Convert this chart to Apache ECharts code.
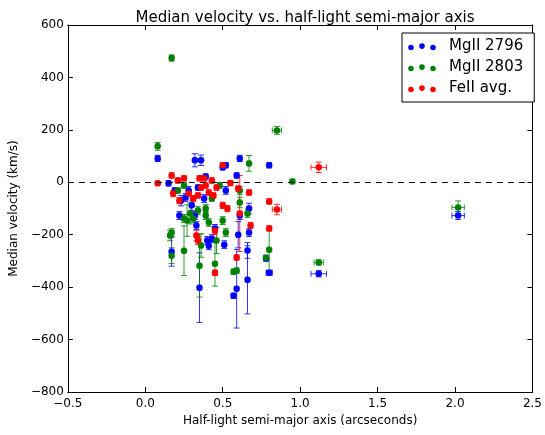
<!DOCTYPE html>
<html>
<head>
<meta charset="utf-8">
<script src="https://cdn.jsdelivr.net/npm/echarts@6/dist/echarts.min.js"></script>
<style>html,body{margin:0;padding:0;background:#fff}#c{width:545px;height:435px}</style>
</head>
<body>
<div id="c"></div>
<script>
// ---- data ----
var xTicks = [-0.5, 0.0, 0.5, 1.0, 1.5, 2.0, 2.5];
var yTicks = [-800, -600, -400, -200, 0, 200, 400, 600];

var mg2796X = [0.08,0.15,0.19,0.17,0.22,0.23,0.26,0.28,0.30,0.32,0.36,0.32,0.33,0.35,0.34,0.38,0.39,0.40,0.41,0.43,0.45,0.50,0.52,0.52,0.51,0.57,0.59,0.59,0.61,0.60,0.61,0.66,0.66,0.67,0.67,0.80,0.80,0.78,1.12,2.02];
var mg2796Y = [91,-4,-31,-265,-127,-70,-58,-31,-88,84,84,-127,-165,-402,-20,-62,22,-222,-242,-215,-176,57,65,-31,-238,-433,26,-406,91,-200,-127,-372,-260,-100,-192,65,-345,-291,-349,-127];
var mg2796Xerr = [0.01,0.01,0.01,0.01,0.01,0.01,0.01,0.01,0.01,0.01,0.01,0.01,0.01,0.01,0.01,0.01,0.01,0.01,0.01,0.01,0.01,0.01,0.01,0.01,0.01,0.01,0.01,0.01,0.01,0.01,0.01,0.01,0.01,0.01,0.01,0.01,0.02,0.01,0.05,0.04];
var mg2796Yerr = [12,10,10,55,15,20,15,15,20,25,20,15,15,133,10,15,10,15,15,15,15,10,10,15,15,10,10,150,12,50,15,130,30,20,15,10,10,10,12,15];

var mg2803X = [0.08,0.17,0.17,0.16,0.17,0.21,0.25,0.25,0.25,0.29,0.27,0.31,0.35,0.36,0.34,0.39,0.39,0.41,0.43,0.45,0.46,0.48,0.50,0.52,0.57,0.59,0.61,0.61,0.67,0.66,0.80,0.78,0.85,0.95,1.12,2.02];
var mg2803Y = [137,474,-280,-203,-192,-31,-12,-138,-261,-119,-146,-138,-318,-241,-108,-100,-127,-153,-62,-311,-222,-12,-146,-192,-341,-337,-31,-77,72,-119,-257,-288,198,3,-306,-96];
var mg2803Xerr = [0.01,0.01,0.01,0.01,0.01,0.01,0.01,0.01,0.01,0.01,0.01,0.01,0.01,0.01,0.01,0.01,0.01,0.01,0.01,0.01,0.01,0.01,0.01,0.01,0.01,0.01,0.01,0.01,0.01,0.01,0.01,0.01,0.03,0.01,0.03,0.04];
var mg2803Yerr = [15,12,30,20,15,10,10,15,95,40,60,15,120,45,15,15,15,15,10,85,50,10,15,15,10,10,15,20,30,15,80,10,15,8,10,25];

var fe2X = [0.08,0.17,0.18,0.21,0.25,0.22,0.28,0.31,0.34,0.33,0.34,0.36,0.39,0.41,0.43,0.44,0.46,0.50,0.50,0.45,0.59,0.61,0.60,0.68,0.67,0.80,0.80,0.85,1.12,0.53,0.55,0.45,0.35,0.38];
var fe2Y = [-4,26,-43,7,15,-70,-43,-62,-50,-203,-222,-20,-12,-39,7,-50,-20,65,-88,-345,-287,-119,-24,-165,-39,-73,-176,-104,57,-100,-3,-185,15,15];
var fe2Xerr = [0.01,0.01,0.01,0.01,0.01,0.01,0.01,0.01,0.01,0.01,0.01,0.01,0.01,0.01,0.01,0.01,0.01,0.01,0.01,0.01,0.01,0.01,0.01,0.01,0.01,0.01,0.01,0.03,0.05,0.01,0.01,0.01,0.01,0.01];
var fe2Yerr = [8,10,12,10,10,12,10,12,10,20,15,10,10,10,10,10,10,10,12,10,10,145,10,12,10,10,10,20,20,12,10,15,10,10];

var seriesNames = ['MgII 2796', 'MgII 2803', 'FeII avg.'];
var seriesColors = ['#0000ff', '#008000', '#ff0000'];

// ---- build ----
function rows(xs, ys, xe, ye) {
  var out = [];
  for (var i = 0; i < xs.length; i++) out.push([xs[i], ys[i], xe[i], ye[i]]);
  return out;
}
var sets = [
  rows(mg2796X, mg2796Y, mg2796Xerr, mg2796Yerr),
  rows(mg2803X, mg2803Y, mg2803Xerr, mg2803Yerr),
  rows(fe2X, fe2Y, fe2Xerr, fe2Yerr)
];

function errRenderer(color) {
  return function (params, api) {
    var x = api.value(0), y = api.value(1), xe = api.value(2), ye = api.value(3);
    var t = api.coord([x, y + ye]), b = api.coord([x, y - ye]);
    var l = api.coord([x - xe, y]), r = api.coord([x + xe, y]);
    var cap = 3;
    var st = { stroke: color, lineWidth: 1, opacity: 0.8 };
    function ln(x1, y1, x2, y2) { return { type: 'line', shape: { x1: x1, y1: y1, x2: x2, y2: y2 }, style: st }; }
    return {
      type: 'group',
      children: [
        ln(t[0], t[1], b[0], b[1]),
        ln(t[0] - cap, t[1], t[0] + cap, t[1]),
        ln(b[0] - cap, b[1], b[0] + cap, b[1]),
        ln(l[0], l[1], r[0], r[1]),
        ln(l[0], l[1] - cap, l[0], l[1] + cap),
        ln(r[0], r[1] - cap, r[0], r[1] + cap)
      ]
    };
  };
}

var series = [];
for (var k = 0; k < 3; k++) {
  series.push({
    name: seriesNames[k] + ' err',
    type: 'custom',
    renderItem: errRenderer(seriesColors[k]),
    data: sets[k],
    encode: { x: [0, 2], y: [1, 3] },
    silent: true,
    animation: false,
    z: 2
  });
  var s = {
    name: seriesNames[k],
    type: 'scatter',
    data: sets[k].map(function (d) { return [d[0], d[1]]; }),
    symbol: 'circle',
    symbolSize: 6.5,
    itemStyle: { color: seriesColors[k], opacity: 1 },
    animation: false,
    z: 3
  };
  if (k === 0) {
    s.markLine = {
      silent: true, symbol: 'none', label: { show: false }, animation: false,
      lineStyle: { color: '#000', type: [6, 5], width: 1.2 },
      data: [{ yAxis: 0 }]
    };
  }
  series.push(s);
}

var font = 'DejaVu Sans';
var minus = function (v, d) { var s = d != null ? v.toFixed(d) : String(v); return s.replace('-', '\u2212'); };

var legendIcon = 'path://M0,0M36,8M0.2,5a2.8,2.8 0 1,0 5.6,0a2.8,2.8 0 1,0 -5.6,0M11.2,3.6a2.8,2.8 0 1,0 5.6,0a2.8,2.8 0 1,0 -5.6,0M22.2,5a2.8,2.8 0 1,0 5.6,0a2.8,2.8 0 1,0 -5.6,0';

var baseAxis = {
  axisLine: { show: true, onZero: false, lineStyle: { color: '#000', width: 1 } },
  axisTick: { show: true, inside: true, length: 5, lineStyle: { color: '#000' } },
  splitLine: { show: false }
};

var chart = echarts.init(document.getElementById('c'), null, { renderer: 'canvas' });
chart.setOption({
  backgroundColor: '#fff',
  animation: false,
  textStyle: { fontFamily: font },
  title: {
    text: 'Median velocity vs. half-light semi-major axis',
    left: 300, top: 6, textAlign: 'center',
    textStyle: { fontFamily: font, fontSize: 15, fontWeight: 'normal', color: '#000' }
  },
  grid: { left: 65, right: 10, top: 25, bottom: 43, show: false },
  legend: {
    data: seriesNames.map(function (n) { return { name: n, icon: legendIcon }; }),
    orient: 'vertical',
    left: 402, top: 33,
    padding: [6, 11, 6, 6],
    itemWidth: 36, itemHeight: 8, itemGap: 6,
    symbolKeepAspect: true,
    selectedMode: false,
    backgroundColor: '#fff',
    borderColor: '#000', borderWidth: 1, borderRadius: 0,
    textStyle: { fontFamily: font, fontSize: 15, color: '#000', lineHeight: 15 }
  },
  xAxis: [
    Object.assign({}, baseAxis, {
      type: 'value', min: xTicks[0], max: xTicks[xTicks.length - 1], interval: 0.5, position: 'bottom',
      name: 'Half-light semi-major axis (arcseconds)', nameLocation: 'middle', nameGap: 23,
      nameTextStyle: { fontFamily: font, fontSize: 12, color: '#000' },
      axisLabel: { margin: 6, fontFamily: font, fontSize: 12, color: '#000', formatter: function (v) { return minus(v, 1); } }
    }),
    Object.assign({}, baseAxis, {
      type: 'value', min: xTicks[0], max: xTicks[xTicks.length - 1], interval: 0.5, position: 'top',
      axisLabel: { show: false }
    })
  ],
  yAxis: [
    Object.assign({}, baseAxis, {
      type: 'value', min: yTicks[0], max: yTicks[yTicks.length - 1], interval: 200, position: 'left',
      name: 'Median velocity (km/s)', nameLocation: 'middle', nameGap: 41, nameRotate: 90,
      nameTextStyle: { fontFamily: font, fontSize: 12, color: '#000' },
      axisLabel: { margin: 4, fontFamily: font, fontSize: 12, color: '#000', formatter: function (v) { return minus(v); } }
    }),
    Object.assign({}, baseAxis, {
      type: 'value', min: yTicks[0], max: yTicks[yTicks.length - 1], interval: 200, position: 'right',
      axisLabel: { show: false }
    })
  ],
  series: series
});
</script>
</body>
</html>
